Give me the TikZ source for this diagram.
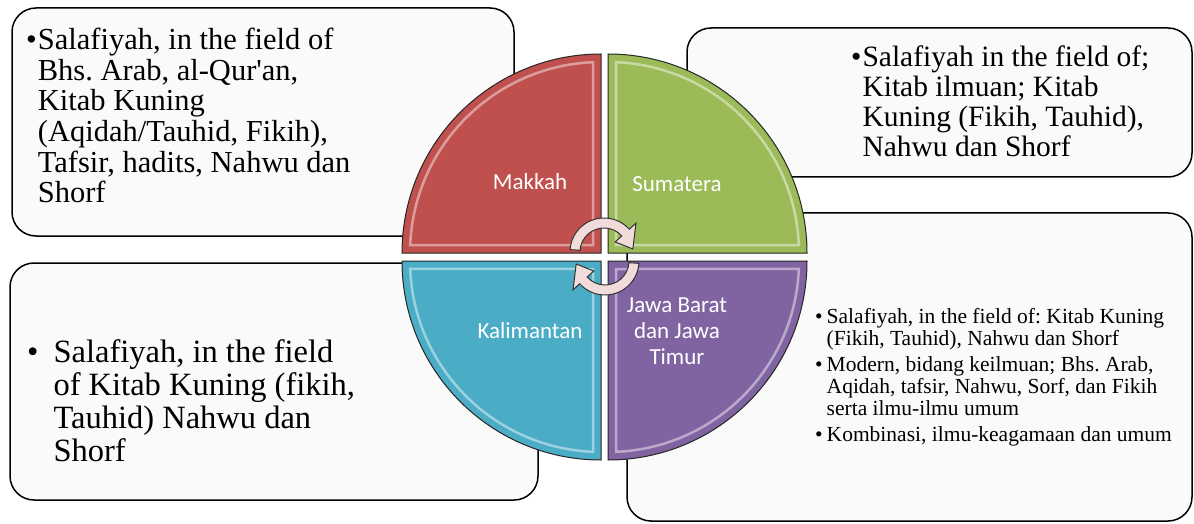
\documentclass[tikz,border=0pt]{standalone}
\usepackage{fontspec}
\setmainfont{Liberation Serif}
\newfontfamily\petalfont{Carlito}
\usepackage{tikz}
\usetikzlibrary{positioning}
\frenchspacing

\definecolor{makkahred}{HTML}{C0504D}
\definecolor{sumateragreen}{HTML}{9BBB59}
\definecolor{kalimantanblue}{HTML}{4BACC6}
\definecolor{jawapurple}{HTML}{8064A2}
\definecolor{arrowpink}{HTML}{F2DCDB}
\definecolor{boxfill}{HTML}{FAFAFA}

\begin{document}
\begin{tikzpicture}[x=1pt,y=1pt,
    infobox/.style={draw=black, line width=1.5pt, fill=boxfill, rounded corners=24pt},
    boxtext/.style={anchor=base west, inner sep=0pt},
    petal/.style={draw=black!85, line width=1pt},
    bevel/.style={draw=white, line width=2.5pt, opacity=0.45},
    petaltext/.style={text=white, inner sep=0pt, align=center, font=\petalfont\fontsize{23}{26}\selectfont},
    cyclearrow/.style={draw=black!80, line width=1pt, fill=arrowpink}]
    \useasboundingbox (0,0) rectangle (1194,523);
    \fill[white] (0,0) rectangle (1194,523);

    \node(makkahbox) [infobox, minimum width=502, minimum height=228] at (263,401) {};
    \node(sumaterabox) [infobox, minimum width=505, minimum height=149] at (939.5,420.5) {};
    \node(jawabox) [infobox, minimum width=565, minimum height=308] at (909.5,156) {};
    \node(kalimantanbox) [infobox, minimum width=528, minimum height=237] at (274,141.5) {};

    \node(makkahtext) [boxtext, font=\fontsize{30.5}{30.5}\selectfont] at (26,473) {%
      \begin{tabular}[t]{@{}l@{\hspace{1pt}}l@{}}
        \textbullet & Salafiyah, in the field of\\
                    & Bhs. Arab, al-Qur\textquotesingle an,\\
                    & Kitab Kuning\\
                    & (Aqidah/Tauhid, Fikih),\\
                    & Tafsir, hadits, Nahwu dan\\
                    & Shorf
      \end{tabular}};
    \node(sumateratext) [boxtext, font=\fontsize{29.5}{30}\selectfont] at (851,456) {%
      \begin{tabular}[t]{@{}l@{\hspace{1pt}}l@{}}
        \textbullet & Salafiyah in the field of;\\
                    & Kitab ilmuan; Kitab\\
                    & Kuning (Fikih, Tauhid),\\
                    & Nahwu dan Shorf
      \end{tabular}};
    \node(jawatext) [boxtext, font=\fontsize{21.5}{22}\selectfont] at (815,200) {%
      \begin{tabular}[t]{@{}l@{\hspace{4pt}}l@{}}
        \textbullet & Salafiyah, in the field of: Kitab Kuning\\
                    & (Fikih, Tauhid), Nahwu dan Shorf\\[4pt]
        \textbullet & Modern, bidang keilmuan; Bhs. Arab,\\
                    & Aqidah, tafsir, Nahwu, Sorf, dan Fikih\\
                    & serta ilmu-ilmu umum\\[4pt]
        \textbullet & Kombinasi, ilmu-keagamaan dan umum
      \end{tabular}};
    \node(kalimantantext) [boxtext, font=\fontsize{32.5}{33}\selectfont] at (27,161) {%
      \begin{tabular}[t]{@{}l@{\hspace{15pt}}l@{}}
        \textbullet & Salafiyah, in the field\\
                    & of Kitab Kuning (fikih,\\
                    & Tauhid) Nahwu dan\\
                    & Shorf
      \end{tabular}};

    \begin{scope}[shift={(601,270)}]
      \filldraw[petal, fill=makkahred] (0,0) -- (180:199) arc[start angle=180, end angle=90, radius=199] -- cycle;
      \draw[bevel] (-8,8) -- (177.6:191) arc[start angle=177.6, end angle=92.4, radius=191] -- cycle;
    \end{scope}
    \begin{scope}[shift={(608,270)}, rotate=-90]
      \filldraw[petal, fill=sumateragreen] (0,0) -- (180:199) arc[start angle=180, end angle=90, radius=199] -- cycle;
      \draw[bevel] (-8,8) -- (177.6:191) arc[start angle=177.6, end angle=92.4, radius=191] -- cycle;
    \end{scope}
    \begin{scope}[shift={(601,262)}, rotate=90]
      \filldraw[petal, fill=kalimantanblue] (0,0) -- (180:199) arc[start angle=180, end angle=90, radius=199] -- cycle;
      \draw[bevel] (-8,8) -- (177.6:191) arc[start angle=177.6, end angle=92.4, radius=191] -- cycle;
    \end{scope}
    \begin{scope}[shift={(608,262)}, rotate=180]
      \filldraw[petal, fill=jawapurple] (0,0) -- (180:199) arc[start angle=180, end angle=90, radius=199] -- cycle;
      \draw[bevel] (-8,8) -- (177.6:191) arc[start angle=177.6, end angle=92.4, radius=191] -- cycle;
    \end{scope}

    \node(makkah) [petaltext] at (530,341) {Makkah};
    \node(sumatera) [petaltext] at (677,339) {Sumatera};
    \node(kalimantan) [petaltext] at (530,192) {Kalimantan};
    \node(jawa) [petaltext] at (677,192) {Jawa Barat\\dan Jawa\\Timur};

    \begin{scope}[shift={(604,271)}]
      \filldraw[cyclearrow] (176:34) arc[start angle=176, end angle=42, radius=34] -- (42:43) -- (6:29) -- (42:15) -- (42:24) arc[start angle=42, end angle=176, radius=24] -- cycle;
    \end{scope}
    \begin{scope}[shift={(605,262)}]
      \filldraw[cyclearrow] (-4:34) arc[start angle=-4, end angle=-138, radius=34] -- (-138:43) -- (-174:29) -- (-138:15) -- (-138:24) arc[start angle=-138, end angle=-4, radius=24] -- cycle;
    \end{scope}
  \end{tikzpicture}
\end{document}
